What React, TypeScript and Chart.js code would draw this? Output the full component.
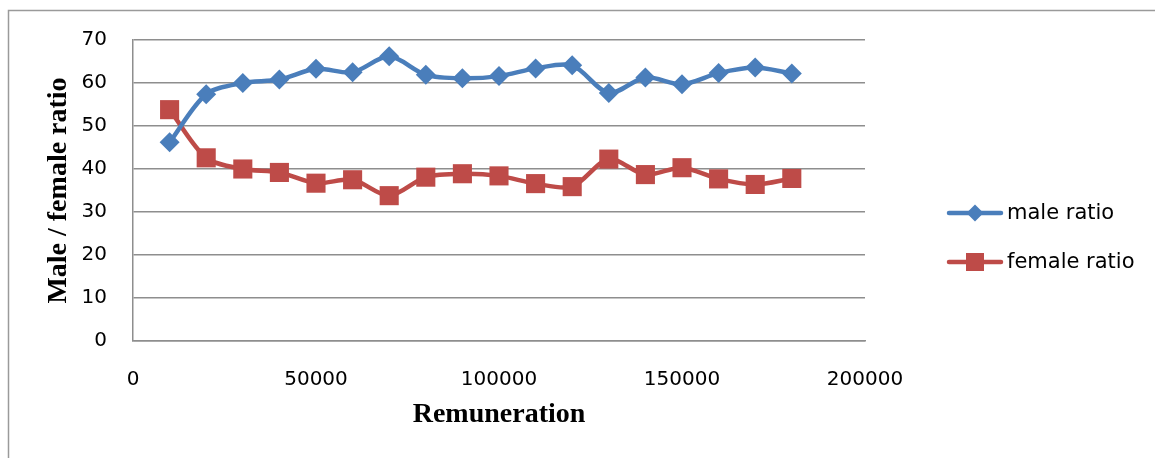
import React, { useEffect, useRef } from "react";
import { Chart, registerables } from "chart.js";

Chart.register(...registerables);

const remuneration = [10000, 20000, 30000, 40000, 50000, 60000, 70000, 80000, 90000, 100000, 110000, 120000, 130000, 140000, 150000, 160000, 170000, 180000];
const maleRatio = [46.2, 57.4, 60.0, 60.8, 63.3, 62.5, 66.2, 61.9, 61.1, 61.6, 63.4, 64.1, 57.7, 61.3, 59.7, 62.3, 63.6, 62.2];
const femaleRatio = [53.8, 42.6, 40.0, 39.2, 36.7, 37.5, 33.8, 38.1, 38.9, 38.4, 36.6, 35.9, 42.3, 38.7, 40.3, 37.7, 36.4, 37.8];
const seriesLabels = ["male ratio", "female ratio"];
const xTitle = "Remuneration";
const yTitle = "Male / female ratio";

const BLUE = "#4a7ebb";
const RED = "#be4b48";
const GRID = "#8e8e8e";

const frameAndLegend = {
  id: "frameAndLegend",
  beforeDraw(chart: any) {
    const ctx = chart.ctx;
    ctx.save();
    ctx.fillStyle = "#ffffff";
    ctx.fillRect(0, 0, chart.width, chart.height);
    ctx.strokeStyle = "#9a9a9a";
    ctx.lineWidth = 1.5;
    ctx.beginPath();
    ctx.moveTo(8.5, chart.height + 5);
    ctx.lineTo(8.5, 10.5);
    ctx.lineTo(chart.width + 5, 10.5);
    ctx.stroke();
    ctx.restore();
  },
  afterDraw(chart: any) {
    const ctx = chart.ctx;
    const ys = [213, 262];
    chart.data.datasets.forEach((ds: any, i: number) => {
      const y = ys[i];
      ctx.save();
      ctx.strokeStyle = ds.borderColor;
      ctx.lineWidth = 4.5;
      ctx.lineCap = "round";
      ctx.beginPath();
      ctx.moveTo(949, y);
      ctx.lineTo(1001, y);
      ctx.stroke();
      ctx.fillStyle = ds.backgroundColor;
      const cx = 975;
      if (ds.pointStyle === "rectRot") {
        const r = 8.5;
        ctx.beginPath();
        ctx.moveTo(cx, y - r);
        ctx.lineTo(cx + r, y);
        ctx.lineTo(cx, y + r);
        ctx.lineTo(cx - r, y);
        ctx.closePath();
        ctx.fill();
      } else {
        const h = 9;
        ctx.fillRect(cx - h, y - h, 2 * h, 2 * h);
      }
      ctx.fillStyle = "#000000";
      ctx.font = "21px 'DejaVu Sans'";
      ctx.textBaseline = "middle";
      ctx.textAlign = "left";
      ctx.fillText(ds.label, 1007, y + 1);
      ctx.restore();
    });
  },
};

export default function App() {
  const ref = useRef<HTMLCanvasElement | null>(null);

  useEffect(() => {
    if (!ref.current) return;
    const chart = new Chart(ref.current, {
      type: "line",
      data: {
        datasets: [
          {
            label: seriesLabels[0],
            data: remuneration.map((x, i) => ({ x, y: maleRatio[i] })),
            borderColor: BLUE,
            backgroundColor: BLUE,
            borderWidth: 4.5,
            pointStyle: "rectRot",
            pointRadius: 10,
            pointBorderWidth: 0,
            pointBackgroundColor: BLUE,
            tension: 0.3,
          },
          {
            label: seriesLabels[1],
            data: remuneration.map((x, i) => ({ x, y: femaleRatio[i] })),
            borderColor: RED,
            backgroundColor: RED,
            borderWidth: 4.5,
            pointStyle: "rect",
            pointRadius: 13.5,
            pointBorderWidth: 0,
            pointBackgroundColor: RED,
            tension: 0.3,
          },
        ],
      },
      options: {
        animation: false,
        responsive: false,
        layout: { padding: { left: 0, top: 40, right: 290, bottom: 0 } },
        plugins: {
          legend: { display: false },
          tooltip: { enabled: false },
        },
        scales: {
          x: {
            type: "linear",
            min: 0,
            max: 200000,
            afterFit: (s: any) => {
              s.height = 117;
            },
            ticks: {
              stepSize: 50000,
              color: "#000000",
              padding: 27,
              maxRotation: 0,
              font: { family: "'DejaVu Sans'", size: 20 },
              callback: (v: any) => String(v),
            },
            grid: { display: false, drawTicks: false },
            border: { display: true, color: GRID, width: 1.5 },
            title: {
              display: true,
              text: xTitle,
              color: "#000000",
              padding: { top: 0, bottom: 26 },
              font: { family: "'Liberation Serif'", size: 28, weight: "bold" },
            },
          },
          y: {
            min: 0,
            max: 70,
            afterFit: (s: any) => {
              s.width = 133;
            },
            ticks: {
              stepSize: 10,
              color: "#000000",
              padding: 26,
              font: { family: "'DejaVu Sans'", size: 20 },
            },
            grid: { color: GRID, lineWidth: 1.5, drawTicks: false },
            border: { display: true, color: GRID, width: 1.5 },
            title: {
              display: true,
              text: yTitle,
              color: "#000000",
              padding: { top: 42, bottom: 0 },
              font: { family: "'Liberation Serif'", size: 28, weight: "bold" },
            },
          },
        },
      },
      plugins: [frameAndLegend],
    } as any);
    return () => chart.destroy();
  }, []);

  return (
    <div style={{ position: "fixed", left: 0, top: 0, width: 1155, height: 458, background: "#fff" }}>
      <canvas ref={ref} width={1155} height={458} style={{ display: "block" }} />
    </div>
  );
}
